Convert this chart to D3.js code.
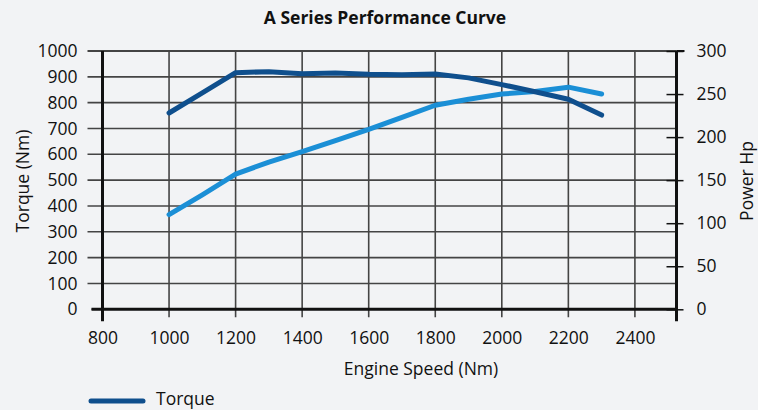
<!DOCTYPE html>
<html>
<head>
<meta charset="utf-8">
<script src="https://cdn.jsdelivr.net/npm/d3@7"></script>
<style>
  body { margin: 0; background: #f2f3f5; }
  svg { display: block; font-family: "Open Sans", sans-serif; }
  .grid line { stroke: #444; stroke-width: 1.6; }
  .axis text { font-family: "Open Sans", sans-serif; font-size: 17.5px; fill: #111; }
</style>
</head>
<body>
<svg id="chart" width="758" height="410"></svg>
<script>
// engine speed (rpm) sampled every 100
var speeds = [1000, 1100, 1200, 1300, 1400, 1500, 1600, 1700, 1800, 1900, 2000, 2100, 2200, 2300];
var torque = [760, 838, 916, 920, 912, 915, 910, 908, 911, 896, 870, 842, 813, 752];
var power  = [110, 133, 157, 171, 183, 196, 209, 223, 237, 244, 250, 253, 258, 250];

var xTicks = [800, 1000, 1200, 1400, 1600, 1800, 2000, 2200, 2400];
var torqueTicks = [0, 100, 200, 300, 400, 500, 600, 700, 800, 900, 1000];
var powerTicks = [0, 50, 100, 150, 200, 250, 300];

(function() {
  var svg = d3.select("#chart");
  var pLeft = 102.5, pRight = 676.5, pTop = 51, pBottom = 309.3;

  var x = d3.scaleLinear().domain([800, 2525]).range([pLeft, pRight]);
  var yT = d3.scaleLinear().domain([0, 1000]).range([pBottom, pTop]);
  var yP = d3.scaleLinear().domain([0, 300]).range([pBottom, pTop]);

  // horizontal gridlines (also act as left ticks)
  svg.append("g").attr("class", "grid")
    .selectAll("line").data(torqueTicks).enter().append("line")
      .attr("x1", function(d) { return d === 0 ? pLeft - 11 : pLeft - 15; })
      .attr("x2", pRight)
      .attr("y1", function(d) { return yT(d); })
      .attr("y2", function(d) { return yT(d); })
      .style("stroke-width", function(d) { return d === 1000 ? 2 : 1.6; });

  // vertical gridlines
  svg.append("g").attr("class", "grid")
    .selectAll("line").data(xTicks.slice(1)).enter().append("line")
      .attr("x1", function(d) { return x(d); })
      .attr("x2", function(d) { return x(d); })
      .attr("y1", pTop)
      .attr("y2", pBottom + 8);

  // left axis labels
  var leftAxis = svg.append("g").attr("class", "axis")
    .attr("transform", "translate(" + (pLeft - 23) + ",0)")
    .call(d3.axisLeft(yT).tickValues(torqueTicks).tickSize(0).tickPadding(2).tickFormat(d3.format("d")));
  leftAxis.select(".domain").remove();

  // right axis
  var rightAxis = svg.append("g").attr("class", "axis")
    .attr("transform", "translate(" + pRight + ",0)")
    .call(d3.axisRight(yP).tickValues(powerTicks).tickSize(7).tickPadding(13));
  rightAxis.select(".domain").remove();
  rightAxis.selectAll(".tick line").attr("x1", -10).attr("stroke", "#111").attr("stroke-width", 1.5);

  // bottom axis labels
  var bottomAxis = svg.append("g").attr("class", "axis")
    .attr("transform", "translate(0," + pBottom + ")")
    .call(d3.axisBottom(x).tickValues(xTicks).tickSize(0).tickFormat(d3.format("d")));
  bottomAxis.select(".domain").remove();
  bottomAxis.selectAll(".tick text").attr("y", 35).attr("dy", 0);

  // axis lines
  svg.append("line").attr("x1", pLeft - 11).attr("x2", pRight).attr("y1", pBottom).attr("y2", pBottom)
    .attr("stroke", "#111").attr("stroke-width", 3);
  svg.append("line").attr("x1", pLeft).attr("x2", pLeft).attr("y1", pTop).attr("y2", pBottom + 12)
    .attr("stroke", "#111").attr("stroke-width", 3);
  svg.append("line").attr("x1", pRight).attr("x2", pRight).attr("y1", pTop).attr("y2", pBottom + 12)
    .attr("stroke", "#111").attr("stroke-width", 3);
  svg.append("line").attr("x1", pRight).attr("x2", pRight + 8).attr("y1", pTop).attr("y2", pTop)
    .attr("stroke", "#111").attr("stroke-width", 2);

  // series
  var torqueLine = d3.line()
    .x(function(d, i) { return x(speeds[i]); })
    .y(function(d) { return yT(d); });
  var powerLine = d3.line()
    .x(function(d, i) { return x(speeds[i]); })
    .y(function(d) { return yP(d); });

  svg.append("path").datum(power).attr("d", powerLine)
    .attr("fill", "none").attr("stroke", "#1b8fd6").attr("stroke-width", 5)
    .attr("stroke-linecap", "round").attr("stroke-linejoin", "round");
  svg.append("path").datum(torque).attr("d", torqueLine)
    .attr("fill", "none").attr("stroke", "#0f4f8d").attr("stroke-width", 5)
    .attr("stroke-linecap", "round").attr("stroke-linejoin", "round");

  // titles
  svg.append("text").attr("x", 385).attr("y", 24).attr("text-anchor", "middle")
    .attr("font-size", "17.5px").attr("font-weight", "bold").attr("fill", "#111")
    .text("A Series Performance Curve");
  svg.append("text").attr("x", 421).attr("y", 375).attr("text-anchor", "middle")
    .attr("font-size", "17.5px").attr("fill", "#111")
    .text("Engine Speed (Nm)");
  svg.append("text").attr("transform", "translate(29,181) rotate(-90)")
    .attr("text-anchor", "middle").attr("font-size", "17.5px").attr("fill", "#111")
    .text("Torque (Nm)");
  svg.append("text").attr("transform", "translate(753,181) rotate(-90)")
    .attr("text-anchor", "middle").attr("font-size", "17.5px").attr("fill", "#111")
    .text("Power Hp");

  // legend
  svg.append("line").attr("x1", 91).attr("x2", 143).attr("y1", 401).attr("y2", 401)
    .attr("stroke", "#0f4f8d").attr("stroke-width", 5).attr("stroke-linecap", "round");
  svg.append("text").attr("x", 156).attr("y", 405).attr("font-size", "17.5px").attr("fill", "#111")
    .text("Torque");
})();
</script>
</body>
</html>
